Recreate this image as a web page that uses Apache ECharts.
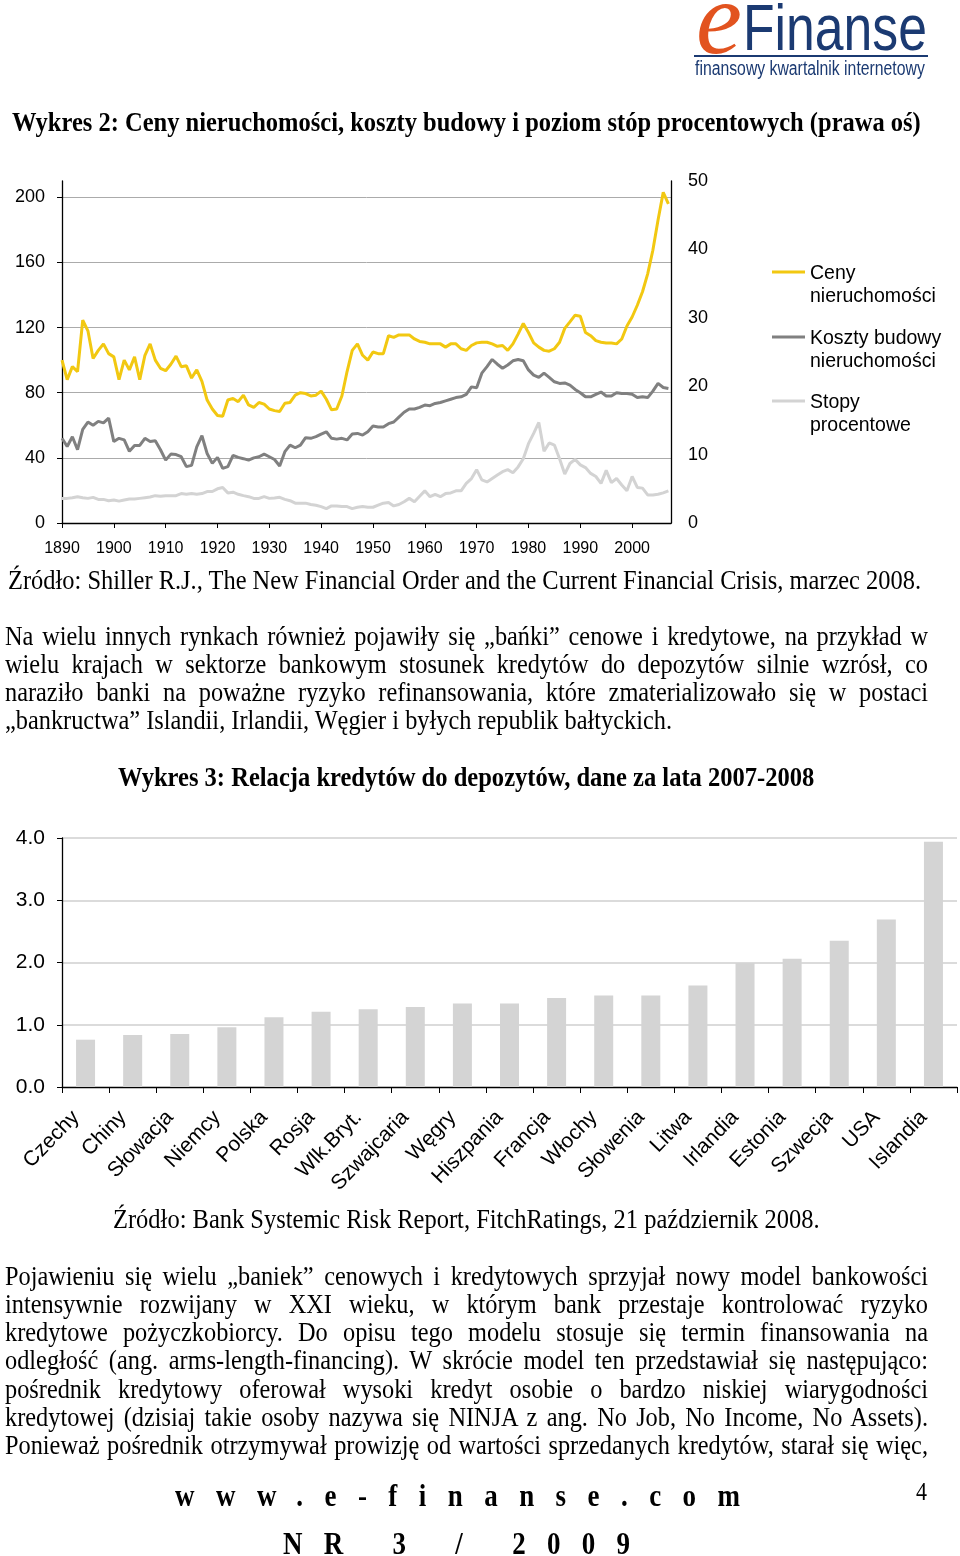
<!DOCTYPE html>
<html><head><meta charset="utf-8">
<script src="https://cdn.jsdelivr.net/npm/echarts@6.0.0/dist/echarts.min.js"></script>
<style>
html,body{margin:0;padding:0;background:#fff}
#page{position:relative;width:960px;height:1556px;background:#fff;overflow:hidden}
#chart{position:absolute;left:0;top:0;width:960px;height:1556px}
</style></head>
<body><div id="page"><div id="chart"></div></div>
<script>
// ---------- DATA ----------
const FIRST_YEAR = 1890;
const housePrices = [
 100, 88, 96, 93, 124.5, 118, 101, 106, 110, 104,
 102, 88, 100, 94, 102, 88, 103, 110, 100, 95,
 93.5, 97.5, 102.5, 96, 96.5, 89, 94, 87, 75.5, 70,
 66, 65.5, 75.5, 76.5, 74.5, 78.5, 72.5, 71, 74, 73,
 70, 69, 68.5, 73.5, 74, 78.5, 80, 79.5, 78, 78.5,
 81, 76, 69.5, 70, 78, 93, 106, 110, 103, 100,
 105, 104, 104, 115, 114, 115.5, 115.5, 115.5, 113, 111.5,
 111, 110, 110, 110, 108, 110, 110, 107, 106, 109,
 110.6, 111, 111, 110, 108.5, 109, 106, 110, 116, 122.5,
 117, 110.6, 108, 106, 105.5, 107, 111, 119.5, 123.5, 127.6,
 127, 117, 115, 112, 111, 110.5, 110.5, 110, 113, 121,
 126.5, 133.7, 142, 153, 167.5, 186, 203, 196
];
const buildingCosts = [
 52, 47, 53, 45, 57.5, 62, 60, 62.4, 61.5, 64.4,
 50, 52, 51, 44, 47.6, 47.6, 52, 50, 50.5, 45,
 38.6, 42.3, 42, 40.7, 34.6, 35.4, 46.8, 53.6, 42.7, 36.6,
 40.3, 33.5, 34.6, 41.5, 40.3, 39.5, 38.6, 40, 40.7, 42.3,
 40.7, 39, 35, 43.8, 47.8, 46.2, 47.8, 52.4, 52, 53,
 54.6, 56, 52, 51.5, 52, 51, 54.6, 55, 54, 56,
 59.5, 59, 59, 61, 62, 65, 68, 70, 70, 71,
 72.4, 72, 73.4, 74, 75, 76, 77, 77.5, 79, 83.6,
 83, 92, 96, 100.4, 97.5, 95, 97, 99.6, 100.4, 99.6,
 94, 90.8, 89.4, 92, 89.4, 86.7, 85.7, 86, 84.7, 82,
 80, 77.5, 77.5, 79, 80.4, 78, 78, 80, 79.5, 79.5,
 79, 77, 77.5, 77, 81, 85.7, 83.2, 82.6
];
const interestRates = [
 3.6, 3.6, 3.7, 3.85, 3.7, 3.6, 3.75, 3.45, 3.45, 3.26,
 3.36, 3.2, 3.36, 3.5, 3.5, 3.6, 3.7, 3.8, 4.0, 3.9,
 4.0, 4.0, 4.0, 4.3, 4.2, 4.3, 4.2, 4.3, 4.6, 4.6,
 5.0, 5.2, 4.4, 4.5, 4.2, 4.0, 3.85, 3.6, 3.6, 3.85,
 3.6, 3.65, 3.75, 3.45, 3.26, 2.9, 2.9, 2.9, 2.7, 2.6,
 2.4, 2.1, 2.5, 2.5, 2.4, 2.4, 2.1, 2.3, 2.4, 2.3,
 2.3, 2.6, 2.9, 3.0, 2.5, 2.7, 3.1, 3.6, 3.1, 3.9,
 4.7, 3.85, 4.2, 3.85, 4.3, 4.4, 4.7, 4.7, 5.8, 6.5,
 7.8, 6.3, 6.0, 6.5, 7.0, 7.5, 7.8, 7.35, 8.2, 9.4,
 11.6, 13.1, 14.7, 10.5, 11.7, 11.4, 9.4, 7.15, 8.7, 9.3,
 8.5, 8.1, 7.25, 6.8, 5.8, 7.7, 5.9, 6.5, 5.55, 4.7,
 6.8, 5.2, 5.1, 4.1, 4.1, 4.2, 4.4, 4.7
];
const lineNames = ['Ceny\nnieruchomości', 'Koszty budowy\nnieruchomości', 'Stopy\nprocentowe'];

const countries = ['Czechy','Chiny','Słowacja','Niemcy','Polska','Rosja','Wlk.Bryt.','Szwajcaria','Węgry',
 'Hiszpania','Francja','Włochy','Słowenia','Litwa','Irlandia','Estonia','Szwecja','USA','Islandia'];
const loanDepositRatio = [0.76, 0.835, 0.85, 0.96, 1.12, 1.21, 1.25, 1.285, 1.34,
 1.34, 1.43, 1.47, 1.47, 1.63, 1.99, 2.06, 2.35, 2.69, 3.94];

// ---------- TEXTS ----------
const title2 = 'Wykres 2: Ceny nieruchomości, koszty budowy i poziom stóp procentowych (prawa oś)';
const source2 = 'Źródło: Shiller R.J., The New Financial Order and the Current Financial Crisis, marzec 2008.';
const para1 = [
 'Na wielu innych rynkach również pojawiły się „bańki” cenowe i kredytowe, na przykład w',
 'wielu krajach w sektorze bankowym stosunek kredytów do depozytów silnie wzrósł, co',
 'naraziło banki na poważne ryzyko refinansowania, które zmaterializowało się w postaci',
 '„bankructwa” Islandii, Irlandii, Węgier i byłych republik bałtyckich.'
];
const title3 = 'Wykres 3: Relacja kredytów do depozytów, dane za lata 2007-2008';
const source3 = 'Źródło: Bank Systemic Risk Report, FitchRatings, 21 październik 2008.';
const para2 = [
 'Pojawieniu się wielu „baniek” cenowych i kredytowych sprzyjał nowy model bankowości',
 'intensywnie rozwijany w XXI wieku, w którym bank przestaje kontrolować ryzyko',
 'kredytowe pożyczkobiorcy. Do opisu tego modelu stosuje się termin finansowania na',
 'odległość (ang. arms-length-financing). W skrócie model ten przedstawiał się następująco:',
 'pośrednik kredytowy oferował wysoki kredyt osobie o bardzo niskiej wiarygodności',
 'kredytowej (dzisiaj takie osoby nazywa się NINJA z ang. No Job, No Income, No Assets).',
 'Ponieważ pośrednik otrzymywał prowizję od wartości sprzedanych kredytów, starał się więc,'
];

// ---------- HTML TEXT ----------
const page = document.getElementById('page');
const ctx = document.createElement('canvas').getContext('2d');
const SERIF = '"Liberation Serif", "Times New Roman", serif';
const SANS = '"Liberation Sans", Arial, sans-serif';
function measure(text, style, weight, fam, size){ ctx.font = `${style} ${weight} ${size}px ${fam}`; return ctx.measureText(text).width; }
function addText(text, o){
  const style=o.style||'normal', weight=o.weight||'normal';
  let fs = o.size;
  if(!fs){ fs = 100*(o.x2-o.x1)/measure(text,style,weight,o.fam,100); }
  const d=document.createElement('div');
  d.textContent=text;
  Object.assign(d.style,{position:'absolute',left:o.x1+'px',top:(o.yc-fs/2)+'px',fontFamily:o.fam,fontSize:fs+'px',
    lineHeight:fs+'px',fontWeight:weight,fontStyle:style,color:o.color||'#000',whiteSpace:'nowrap',
    transform:`scaleY(${o.sy||1})`,transformOrigin:'50% 50%',letterSpacing:(o.ls||0)+'px'});
  if(o.justify){
    const nat = measure(text,style,weight,o.fam,fs);
    if(nat > (o.x2-o.x1)-1){ fs = fs*((o.x2-o.x1)-2)/nat; d.style.fontSize=fs+'px'; d.style.lineHeight=fs+'px'; d.style.top=(o.yc-fs/2)+'px'; }
    Object.assign(d.style,{width:(o.x2-o.x1)+'px',textAlign:'justify',textAlignLast:'justify',whiteSpace:'normal'});
  }
  page.appendChild(d);
  return fs;
}
const SY = 1.15;
// logo
addText('e',{x1:696,x2:742,yc:19,fam:SERIF,style:'italic',color:'#E2531F',sy:1.0});
addText('Finanse',{x1:743,x2:927,yc:29,fam:SANS,color:'#1B3A72',sy:1.25});
const bar = document.createElement('div');
Object.assign(bar.style,{position:'absolute',left:'694px',top:'55px',width:'234px',height:'2px',background:'#1B3A72'});
page.appendChild(bar);
addText('finansowy kwartalnik internetowy',{x1:695,x2:925,yc:68,fam:SANS,color:'#1B3A72',sy:1.3});

addText(title2,{x1:12,x2:921,yc:122,fam:SERIF,weight:'bold',sy:SY});
addText(source2,{x1:8,x2:922,yc:580,fam:SERIF,sy:SY});
const pfs = 100*(673-5)/measure(para1[3],'normal','normal',SERIF,100);
const p1y=[636,664,692,720];
para1.forEach((t,i)=>addText(t,{x1:5,x2:i<3?928:673,yc:p1y[i],fam:SERIF,size:pfs,sy:SY,justify:i<3}));
addText(title3,{x1:118,x2:815,yc:777,fam:SERIF,weight:'bold',sy:SY});
addText(source3,{x1:113,x2:820,yc:1219,fam:SERIF,sy:SY});
const p2y=[1276,1304,1332,1360,1389,1417,1445];
para2.forEach((t,i)=>addText(t,{x1:5,x2:928,yc:p2y[i],fam:SERIF,size:pfs,sy:SY,justify:true}));
// footer
(function(){
  const t='www.e-finanse.com', fs=27;
  const w=measure(t,'normal','bold',SERIF,fs);
  const ls=(740-175-w)/(t.length-1);
  addText(t,{x1:175,yc:1496,fam:SERIF,weight:'bold',size:fs,ls:ls,sy:SY});
  const t2='NR 3 / 2009';
  const w2=measure(t2,'normal','bold',SERIF,fs);
  const ls2=(630-283-w2)/(t2.length-1);
  addText(t2,{x1:283,yc:1544,fam:SERIF,weight:'bold',size:fs,ls:ls2,sy:SY});
  addText('4',{x1:916,yc:1492,fam:SERIF,size:22,sy:SY});
})();

// ---------- CHART ----------
const chart = echarts.init(document.getElementById('chart'), null, {renderer:'canvas'});
const lineColors = ['#F2C811','#808080','#D3D3D3'];
const toPairs = arr => arr.map((v,i)=>[FIRST_YEAR+i, v]);
const axisBlack = {lineStyle:{color:'#000',width:1.3}};
const lbl = (size)=>({color:'#000',fontSize:size,fontFamily:SANS});
const legendY=[272,337,401];
const legendGraphics=[];
lineNames.forEach((n,i)=>{
  legendGraphics.push({type:'line',shape:{x1:772,y1:legendY[i],x2:805,y2:legendY[i]},style:{stroke:lineColors[i],lineWidth:3}});
  legendGraphics.push({type:'text',x:810,y:legendY[i]+2-11.5,style:{text:n,fontSize:19.5,lineHeight:23,fontFamily:SANS,fill:'#000',textVerticalAlign:'top'}});
});
const option = {
  animation:false,
  backgroundColor:'transparent',
  grid:[{left:62,top:181,width:609,height:342},{left:62,top:838,width:895,height:249}],
  xAxis:[
    {type:'value',gridIndex:0,min:1890,max:2007.5,interval:10,
     axisLine:axisBlack,axisTick:{show:true,length:5,lineStyle:{color:'#000'}},
     axisLabel:Object.assign(lbl(16),{margin:18,showMaxLabel:false,formatter:v=>String(v)}),splitLine:{show:false}},
    {type:'category',gridIndex:1,data:countries,boundaryGap:true,
     axisLine:axisBlack,axisTick:{show:true,length:6,alignWithLabel:false,lineStyle:{color:'#000'}},
     axisLabel:Object.assign(lbl(21),{rotate:46,margin:17,interval:0,padding:[0,14,0,0]})}
  ],
  yAxis:[
    {type:'value',gridIndex:0,min:0,max:210,interval:40,
     axisLine:{show:true,lineStyle:{color:'#000',width:1.3}},axisTick:{show:true,length:5,lineStyle:{color:'#000'}},
     axisLabel:Object.assign(lbl(18),{margin:17,showMaxLabel:false}),
     splitLine:{show:true,showMaxLine:false,showMinLine:false,lineStyle:{color:'#ABABAB',width:1}}},
    {type:'value',gridIndex:0,position:'right',min:0,max:50,interval:10,
     axisLine:{show:true,lineStyle:{color:'#000',width:1.3}},axisTick:{show:false},
     axisLabel:Object.assign(lbl(18),{margin:17}),splitLine:{show:false}},
    {type:'value',gridIndex:1,min:0,max:4,interval:1,
     axisLine:{show:true,lineStyle:{color:'#000',width:1.3}},axisTick:{show:true,length:5,lineStyle:{color:'#000'}},
     axisLabel:Object.assign(lbl(21),{margin:17,formatter:v=>v.toFixed(1)}),
     splitLine:{show:true,showMinLine:false,lineStyle:{color:'#CFCFCF',width:1.5}}}
  ],
  series:[
    {name:lineNames[2],type:'line',xAxisIndex:0,yAxisIndex:1,data:toPairs(interestRates),showSymbol:false,lineStyle:{color:lineColors[2],width:3},itemStyle:{color:lineColors[2]}},
    {name:lineNames[1],type:'line',xAxisIndex:0,yAxisIndex:0,data:toPairs(buildingCosts),showSymbol:false,lineStyle:{color:lineColors[1],width:3},itemStyle:{color:lineColors[1]}},
    {name:lineNames[0],type:'line',xAxisIndex:0,yAxisIndex:0,data:toPairs(housePrices),showSymbol:false,lineStyle:{color:lineColors[0],width:3},itemStyle:{color:lineColors[0]}},
    {name:'Relacja',type:'bar',xAxisIndex:1,yAxisIndex:2,data:loanDepositRatio,barWidth:19,itemStyle:{color:'#D4D4D4'}}
  ],
  graphic:legendGraphics
};
chart.setOption(option);
</script>
</body></html>
